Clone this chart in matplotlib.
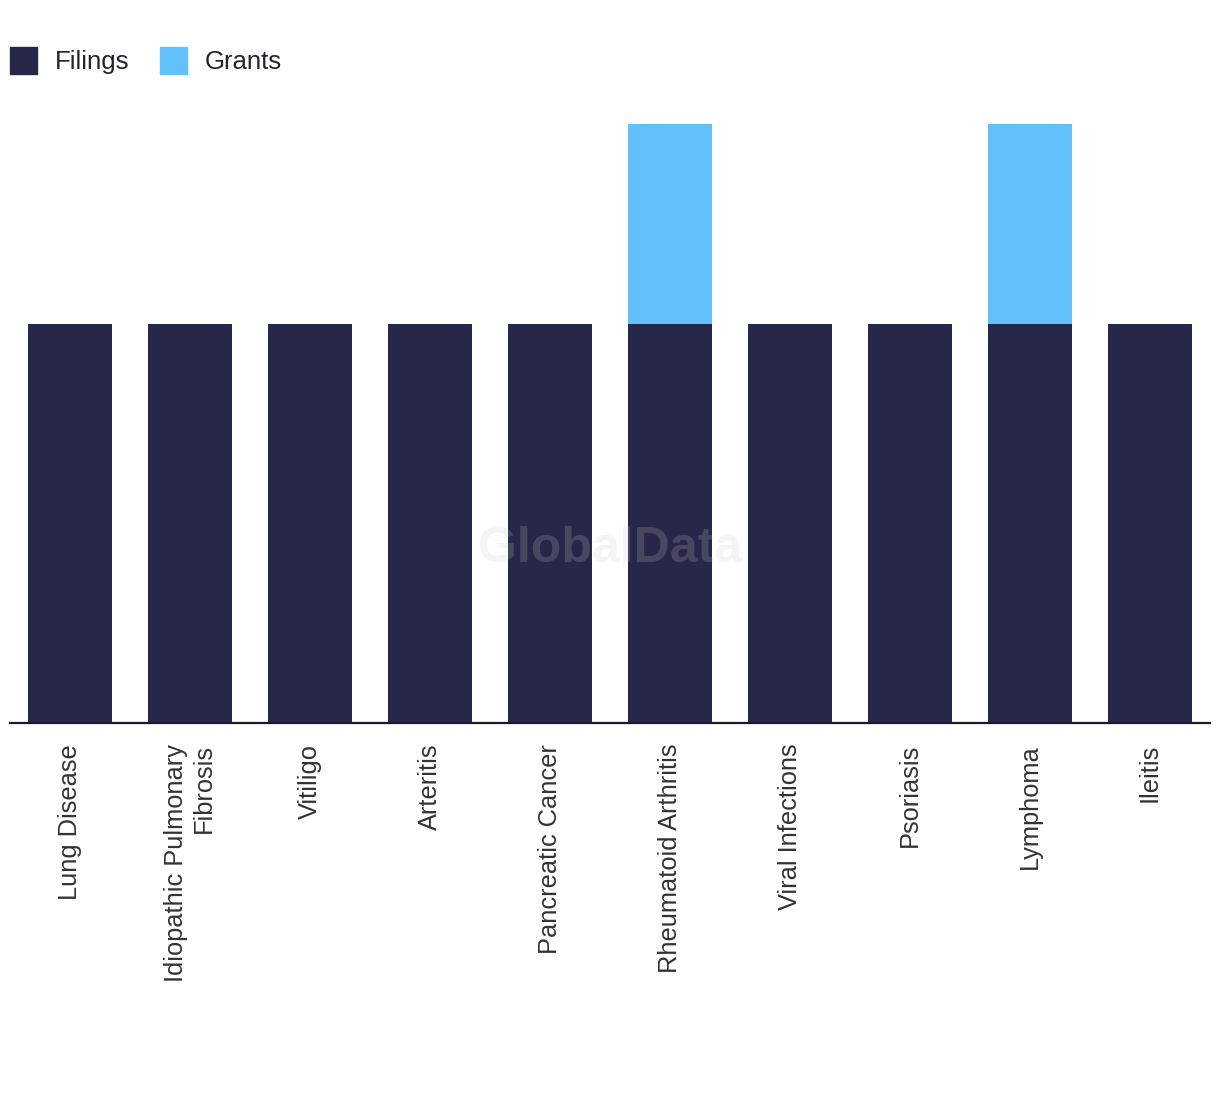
import matplotlib.pyplot as plt
from matplotlib.patches import Patch

categories = ['Lung Disease', 'Idiopathic Pulmonary\nFibrosis', 'Vitiligo', 'Arteritis',
              'Pancreatic Cancer', 'Rheumatoid Arthritis', 'Viral Infections', 'Psoriasis',
              'Lymphoma', 'Ileitis']
filings = [2, 2, 2, 2, 2, 2, 2, 2, 2, 2]
grants = [0, 0, 0, 0, 0, 1, 0, 0, 1, 0]

dark = '#272849'
light = '#63c1f9'

plt.rcParams['font.family'] = ['Liberation Sans', 'DejaVu Sans']

fig = plt.figure(figsize=(12.2, 10.94), dpi=100)
ax = fig.add_axes([10 / 1220, 371 / 1094, 1200 / 1220, 599 / 1094])

x = list(range(len(categories)))
ax.bar(x, filings, width=0.7, color=dark)
ax.bar(x, grants, width=0.7, bottom=filings, color=light)

ax.set_xlim(-0.5, len(categories) - 0.5)
ax.set_ylim(0, 3)
ax.set_yticks([])
ax.set_xticks(x)
ax.set_xticklabels(categories, rotation=90, va='top', ha='center',
                   multialignment='right', fontsize=18.3, color='#333333')
ax.tick_params(axis='x', length=0, pad=15)
for s in ['top', 'right', 'left']:
    ax.spines[s].set_visible(False)
ax.spines['bottom'].set_color('#1a1a2e')
ax.spines['bottom'].set_linewidth(1.6)

ax.text(0.5, 0.29, 'GlobalData', transform=ax.transAxes, ha='center', va='center',
        fontsize=36, fontweight='bold', color='#c8c8c8', alpha=0.2, zorder=5)

handles = [Patch(color=dark, label='Filings'), Patch(color=light, label='Grants')]
fig.legend(handles=handles, loc='upper left', bbox_to_anchor=(-0.011, 0.978), ncol=2,
           frameon=False, fontsize=18.5, handlelength=1.05, handleheight=1.2,
           columnspacing=1.2, handletextpad=0.7, labelcolor='#222233',
           borderaxespad=0.5)

fig.savefig('out.png', dpi=100)
